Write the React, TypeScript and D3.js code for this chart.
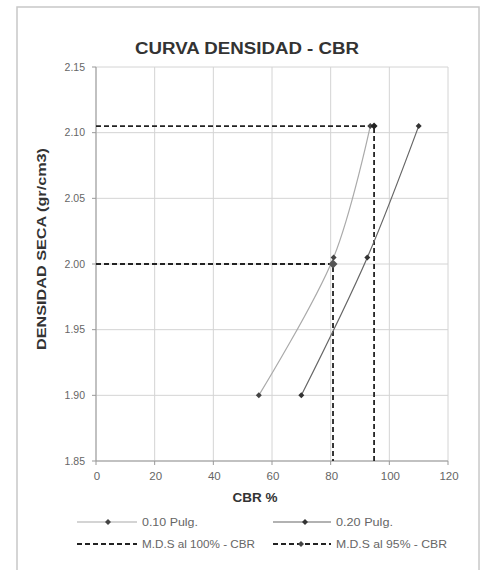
import React from "react";
import * as d3 from "d3";

const cbr010 = [55.5, 81, 93.5];
const dens010 = [1.9, 2.005, 2.105];
const cbr020 = [70, 92.5, 110];
const dens020 = [1.9, 2.005, 2.105];
const mds100X = [0, 94.8, 94.8];
const mds100Y = [2.105, 2.105, 1.85];
const mds95X = [0, 80.8, 80.8];
const mds95Y = [2.0, 2.0, 1.85];
const xTicks = [0, 20, 40, 60, 80, 100, 120];
const yTicks = [1.85, 1.9, 1.95, 2.0, 2.05, 2.1, 2.15];

const W = 482;
const H = 570;
const FONT = "'Liberation Sans', Arial, sans-serif";

export default function App() {
  const x = d3.scaleLinear().domain([0, 120]).range([96, 448]);
  const y = d3.scaleLinear().domain([1.85, 2.15]).range([461, 67]);

  const pts = (xs: number[], ys: number[]) => xs.map((v, i) => [x(v), y(ys[i])] as [number, number]);
  const smooth = d3.line().curve(d3.curveCatmullRom.alpha(0.5));
  const straight = d3.line();

  const diamond = (cx: number, cy: number, r: number, fill: string, key: string) => (
    <path key={key} d={`M${cx},${cy - r}L${cx + r},${cy}L${cx},${cy + r}L${cx - r},${cy}Z`} fill={fill} />
  );

  const p010 = pts(cbr010, dens010);
  const p020 = pts(cbr020, dens020);
  const p100 = pts(mds100X, mds100Y);
  const p95 = pts(mds95X, mds95Y);

  return (
    <svg width={W} height={H} style={{ position: "absolute", left: 0, top: 0, background: "#fff" }}>
      <rect x={0} y={0} width={W} height={H} fill="#fff" />
      <rect x={17} y={7} width={462} height={570} fill="none" stroke="#c8c8c8" strokeWidth={1.5} />
      <text x={247} y={54} textAnchor="middle" fontFamily={FONT} fontWeight="bold" fontSize={16} fill="#333"
        textLength={224} lengthAdjust="spacingAndGlyphs">
        CURVA DENSIDAD - CBR
      </text>
      {/* grid */}
      {xTicks.map((t) => (
        <line key={"gx" + t} x1={x(t)} x2={x(t)} y1={y(2.15)} y2={y(1.85)} stroke="#d4d4d4" strokeWidth={1} />
      ))}
      {yTicks.map((t) => (
        <line key={"gy" + t} x1={x(0)} x2={x(120)} y1={y(t)} y2={y(t)} stroke="#d4d4d4" strokeWidth={1} />
      ))}
      {/* axes */}
      <line x1={x(0)} x2={x(0)} y1={y(2.15)} y2={y(1.85)} stroke="#999" strokeWidth={1} />
      <line x1={x(0)} x2={x(120)} y1={y(1.85)} y2={y(1.85)} stroke="#999" strokeWidth={1} />
      {yTicks.map((t) => (
        <g key={"ty" + t}>
          <line x1={x(0) - 4} x2={x(0)} y1={y(t)} y2={y(t)} stroke="#999" />
          <text x={85} y={y(t) + 3.5} textAnchor="end" fontFamily={FONT} fontSize={10.5} fill="#666">
            {t.toFixed(2)}
          </text>
        </g>
      ))}
      {xTicks.map((t) => (
        <g key={"tx" + t}>
          <line x1={x(t)} x2={x(t)} y1={y(1.85)} y2={y(1.85) + 4} stroke="#999" />
          <text x={x(t) + 1} y={480} textAnchor="middle" fontFamily={FONT} fontSize={11.5} fill="#666">
            {t}
          </text>
        </g>
      ))}
      <text x={255} y={502} textAnchor="middle" fontFamily={FONT} fontWeight="bold" fontSize={12.5} fill="#333"
        textLength={45} lengthAdjust="spacingAndGlyphs">
        CBR %
      </text>
      <text
        transform={`translate(46,249) rotate(-90)`}
        textAnchor="middle"
        fontFamily={FONT}
        fontWeight="bold"
        fontSize={12.5}
        fill="#333"
        textLength={202}
        lengthAdjust="spacingAndGlyphs"
      >
        DENSIDAD SECA (gr/cm3)
      </text>
      {/* MDS lines */}
      <path d={straight(p100) || ""} fill="none" stroke="#222" strokeWidth={1.8} strokeDasharray="5,3" />
      <path d={straight(p95) || ""} fill="none" stroke="#222" strokeWidth={1.8} strokeDasharray="5,3" />
      {/* series */}
      <path d={smooth(p010) || ""} fill="none" stroke="#aaa" strokeWidth={1.2} />
      <path d={smooth(p020) || ""} fill="none" stroke="#666" strokeWidth={1.2} />
      {p010.map((p, i) => diamond(p[0], p[1], 3, "#444", "a" + i))}
      {p020.map((p, i) => diamond(p[0], p[1], 3, "#333", "b" + i))}
      {diamond(p100[1][0], p100[1][1], 3.5, "#222", "c")}
      {diamond(p95[1][0], p95[1][1], 4.5, "#555", "d")}
      {/* legend */}
      <line x1={77} x2={137} y1={522} y2={522} stroke="#aaa" strokeWidth={1.2} />
      {diamond(108, 522, 3, "#444", "l1")}
      <text x={142} y={526} fontFamily={FONT} fontSize={11} fill="#666" textLength={56} lengthAdjust="spacingAndGlyphs">0.10 Pulg.</text>
      <line x1={273} x2={331} y1={522} y2={522} stroke="#666" strokeWidth={1.2} />
      {diamond(305, 522, 3, "#333", "l2")}
      <text x={336} y={526} fontFamily={FONT} fontSize={11} fill="#666" textLength={57} lengthAdjust="spacingAndGlyphs">0.20 Pulg.</text>
      <line x1={77} x2={137} y1={544} y2={544} stroke="#222" strokeWidth={1.8} strokeDasharray="5,3" />
      <text x={142} y={548} fontFamily={FONT} fontSize={11} fill="#666" textLength={113} lengthAdjust="spacingAndGlyphs">M.D.S al 100% - CBR</text>
      <line x1={273} x2={331} y1={544} y2={544} stroke="#222" strokeWidth={1.8} strokeDasharray="5,3" />
      {diamond(301, 544, 3, "#444", "l4")}
      <text x={336} y={548} fontFamily={FONT} fontSize={11} fill="#666" textLength={111} lengthAdjust="spacingAndGlyphs">M.D.S al 95% - CBR</text>
    </svg>
  );
}
